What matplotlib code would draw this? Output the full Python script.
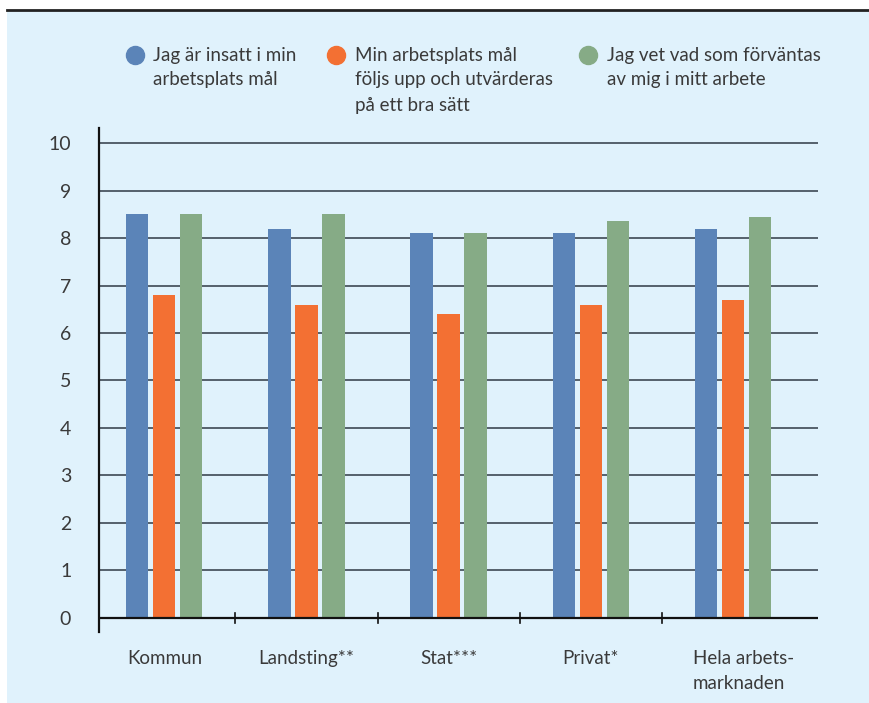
import matplotlib.pyplot as plt
from matplotlib.patches import Rectangle
from matplotlib.lines import Line2D

# Data
categories = ["Kommun", "Landsting**", "Stat***", "Privat*", "Hela arbets-\nmarknaden"]
insatt = [8.5, 8.2, 8.1, 8.1, 8.2]
uppfoljning = [6.8, 6.6, 6.4, 6.6, 6.7]
forvantas = [8.5, 8.5, 8.1, 8.35, 8.45]
series_labels = [
    ["Jag är insatt i min", "arbetsplats mål"],
    ["Min arbetsplats mål", "följs upp och utvärderas", "på ett bra sätt"],
    ["Jag vet vad som förväntas", "av mig i mitt arbete"],
]

colors = ["#5b84b8", "#f37033", "#86ab86"]
bg = "#e0f2fc"
txt = "#3a3a3a"

plt.rcParams['font.family'] = ['Lato', 'DejaVu Sans']

W, H = 870, 703
fig = plt.figure(figsize=(W / 100, H / 100), dpi=100)
fig.patch.set_facecolor("white")

# light blue panel with a dark rule on top
fig.add_artist(Rectangle((7 / W, 0), 1, 1 - 10 / H, transform=fig.transFigure,
                         facecolor=bg, edgecolor="none", zorder=-10))
fig.add_artist(Line2D([7 / W, 1], [1 - 10 / H, 1 - 10 / H], transform=fig.transFigure,
                      color="#222222", lw=2))

# axes: left spine at x=99, right end at 818, spine from y=128 to 632
ax = fig.add_axes([99 / W, 1 - 632 / H, (818 - 99) / W, (632 - 128) / H])
ax.set_facecolor("none")
ax.set_xlim(-0.46, 4.6)
ax.set_ylim(-0.3, 10.32)

x = range(len(categories))
step = 0.19
width = 0.156
for k, vals in enumerate([insatt, uppfoljning, forvantas]):
    ax.bar([i + (k - 1) * step for i in x], vals, width=width, color=colors[k], zorder=3)

# grid lines
for v in range(1, 11):
    ax.axhline(v, color="#4a5560", lw=1.3, zorder=2)
ax.axhline(0, color="#111111", lw=1.6, zorder=4)

# group separator ticks
for b in [0.5, 1.5, 2.5, 3.5]:
    ax.plot([b, b], [-0.1, 0.1], color="#111111", lw=1.2, zorder=4)

for s in ["top", "right", "bottom"]:
    ax.spines[s].set_visible(False)
ax.spines["left"].set_color("#111111")
ax.spines["left"].set_linewidth(1.6)

ax.set_yticks(range(0, 11))
ax.tick_params(axis="y", length=0, pad=20, labelsize=14, labelcolor=txt)
ax.set_xticks([])

for i, c in enumerate(categories):
    if "\n" in c:
        ax.text(i - 0.28, -0.68, c, ha="left", va="top", fontsize=13.5, color=txt,
                linespacing=1.55)
    else:
        ax.text(i, -0.68, c, ha="center", va="top", fontsize=13.5, color=txt)

# legend
circ_x = [135, 336, 588]
text_x = [153, 355, 607]
for k in range(3):
    fig.add_artist(Line2D([circ_x[k] / W], [1 - 55 / H], transform=fig.transFigure,
                          marker="o", markersize=13, color=colors[k], lw=0))
    for j, line in enumerate(series_labels[k]):
        fig.text(text_x[k] / W, 1 - (55 + 25 * j) / H, line, ha="left", va="center",
                 fontsize=13.5, color=txt)

fig.savefig("out.png", dpi=100)
